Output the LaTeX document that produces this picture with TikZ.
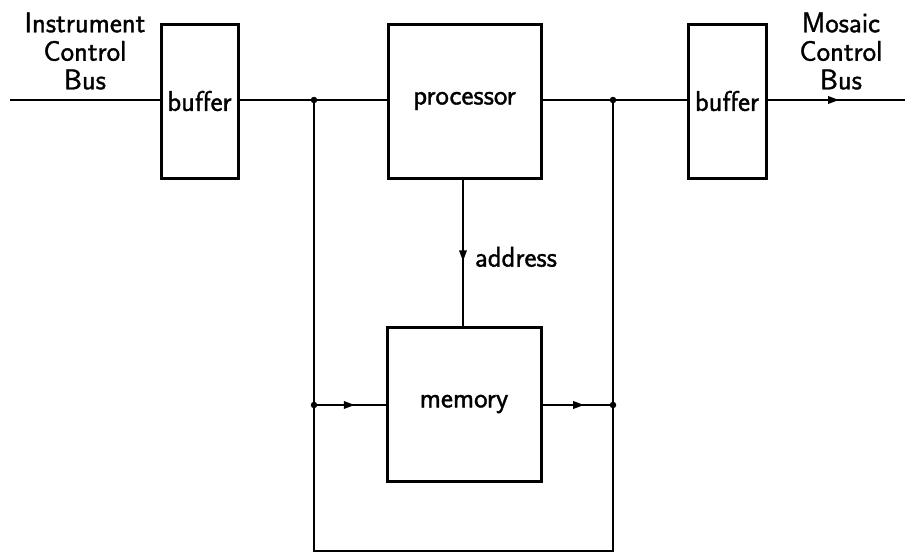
\documentclass[tikz,border=0pt]{standalone}
\usepackage{fontspec}
\newfontfamily\hsf{Latin Modern Sans}[FakeBold=1.2]
\usetikzlibrary{decorations.markings,arrows.meta}
\begin{document}
\begin{tikzpicture}[x=1pt,y=-1pt,
  box/.style={draw,line width=3pt,minimum width=#1,inner sep=0pt,font=\hsf\fontsize{28.5}{30}\selectfont},
  wire/.style={line width=1.9pt},
  midarrow/.style={postaction={decorate},decoration={markings,mark=at position #1 with {\arrow{Triangle[length=11pt,width=7.5pt]}}}},
  dot/.style={circle,fill,inner sep=0pt,minimum size=6.5pt},
  lbl/.style={align=center,font=\hsf\fontsize{28.5}{28.5}\selectfont,inner sep=0pt}]
\useasboundingbox (0,0) rectangle (905,557);
% boxes
\node[box=77pt,minimum height=154pt] (buf1) at (199.5,101) {buffer};
\node[box=153pt,minimum height=154pt] (proc) at (464.5,101) {processor};
\node[box=78pt,minimum height=154pt] (buf2) at (727,101) {buffer};
\node[box=154pt,minimum height=154pt] (mem) at (464,404) {memory};
% coordinates
\coordinate (in) at (10,100);
\coordinate (out) at (905,100);
\node[dot] (j1) at (314,100) {};
\node[dot] (j2) at (613,100) {};
\node[dot] (m1) at (314,405) {};
\node[dot] (m2) at (613,405) {};
\coordinate (c1) at (314,551);
\coordinate (c2) at (613,551);
% wires
\draw[wire] (in) -- (buf1.west |- in);
\draw[wire] (buf1.east |- j1) -- (j1.center) -- (proc.west |- j1);
\draw[wire] (proc.east |- j2) -- (j2.center) -- (buf2.west |- j2);
\draw[wire,midarrow=0.52] (buf2.east |- out) -- (out);
\draw[wire,midarrow=0.56] (proc.south -| 463,0) -- (mem.north -| 463,0) node[pos=0.53,right=11pt,lbl] {address};
\draw[wire] (j1.center) -- (m1.center) -- (c1) -- (c2) -- (m2.center) -- (j2.center);
\draw[wire,midarrow=0.57] (m1.center) -- (mem.west |- m1);
\draw[wire,midarrow=0.59] (mem.east |- m2) -- (m2.center);
% labels
\node[lbl] (lin) at (85,51) {Instrument\\Control\\Bus};
\node[lbl] (lout) at (841,51) {Mosaic\\Control\\Bus};
\end{tikzpicture}
\end{document}
